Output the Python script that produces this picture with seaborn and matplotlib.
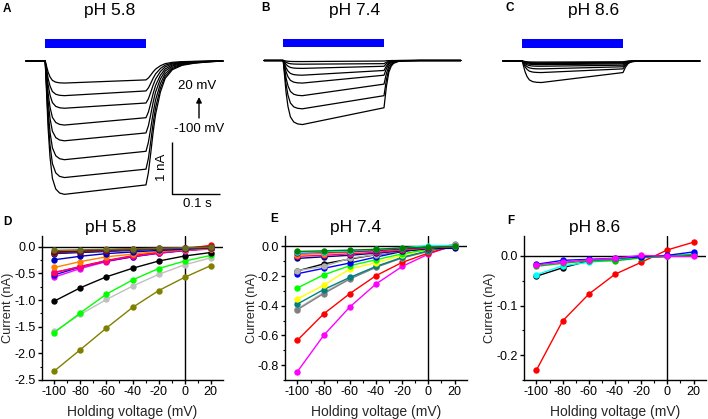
import numpy as np
import pandas as pd
import matplotlib
matplotlib.use("Agg")
import matplotlib.pyplot as plt
import seaborn as sns
from matplotlib.ticker import MultipleLocator, FormatStrFormatter

# ---------------- data ----------------
voltages = [-100, -80, -60, -40, -20, 0, 20]
x_ticks = [-100, -80, -60, -40, -20, 0, 20]

# Panel D (pH 5.8) IV curves, nA
D_darkyellow = [-2.33, -1.93, -1.525, -1.14, -0.825, -0.575, -0.356]
D_ltgray = [-1.59, -1.27, -0.99, -0.74, -0.52, -0.34, -0.21]
D_green = [-1.61, -1.24, -0.89, -0.625, -0.41, -0.27, -0.165]
D_black = [-1.02, -0.77, -0.565, -0.405, -0.27, -0.175, -0.11]
D_magenta = [-0.57, -0.41, -0.28, -0.19, -0.125, -0.075, -0.045]
D_blue = [-0.53, -0.38, -0.27, -0.19, -0.12, -0.07, -0.03]
D_red = [-0.49, -0.37, -0.26, -0.17, -0.10, -0.04, 0.025]
D_pink = [-0.48, -0.38, -0.265, -0.18, -0.12, -0.07, -0.035]
D_orange = [-0.39, -0.28, -0.19, -0.14, -0.09, -0.06, -0.04]
D_royal = [-0.245, -0.18, -0.13, -0.10, -0.07, -0.05, -0.025]
D_navy = [-0.13, -0.11, -0.09, -0.07, -0.05, -0.03, -0.015]
D_purple = [-0.12, -0.10, -0.08, -0.06, -0.04, -0.025, -0.01]
D_darkgray = [-0.11, -0.09, -0.07, -0.055, -0.04, -0.025, -0.02]
D_wine = [-0.10, -0.08, -0.06, -0.045, -0.03, -0.02, -0.005]
D_olive = [-0.07, -0.06, -0.05, -0.04, -0.03, -0.02, -0.01]
D_names = ["darkyellow", "ltgray", "green", "black", "magenta", "blue", "red", "pink",
           "orange", "royal", "navy", "purple", "darkgray", "wine", "olive"]
D_colors = ["#808000", "#c0c0c0", "#00ff00", "#000000", "#ff00ff", "#0000ff", "#ff0000",
            "#ff0080", "#ff8000", "#0000c0", "#000080", "#800080", "#404040", "#800000", "#6b6b20"]
D_series = [D_darkyellow, D_ltgray, D_green, D_black, D_magenta, D_blue, D_red, D_pink,
            D_orange, D_royal, D_navy, D_purple, D_darkgray, D_wine, D_olive]

# Panel E (pH 7.4)
E_magenta = [-0.843, -0.600, -0.408, -0.253, -0.135, -0.052, 0.011]
E_red = [-0.632, -0.455, -0.318, -0.197, -0.108, -0.045, 0.004]
E_ltgray = [-0.420, -0.310, -0.215, -0.138, -0.075, -0.030, 0.012]
E_gray = [-0.426, -0.318, -0.220, -0.141, -0.078, -0.034, 0.016]
E_darkcyan = [-0.388, -0.291, -0.209, -0.135, -0.074, -0.029, 0.005]
E_yellow = [-0.354, -0.262, -0.152, -0.110, -0.060, -0.020, 0.005]
E_green = [-0.280, -0.192, -0.130, -0.090, -0.050, -0.020, 0.000]
E_blue = [-0.184, -0.148, -0.112, -0.072, -0.034, -0.011, -0.007]
E_black = [-0.165, -0.118, -0.085, -0.056, -0.034, -0.013, 0.003]
E_silver = [-0.163, -0.135, -0.080, -0.055, -0.030, -0.005, 0.010]
E_navy = [-0.081, -0.070, -0.060, -0.045, -0.030, -0.015, -0.013]
E_pink = [-0.067, -0.060, -0.050, -0.040, -0.025, -0.010, 0.000]
E_orange = [-0.056, -0.048, -0.040, -0.030, -0.020, -0.010, 0.000]
E_purple = [-0.045, -0.040, -0.035, -0.028, -0.018, -0.008, 0.000]
E_cyan = [-0.040, -0.035, -0.030, -0.020, -0.010, 0.005, 0.005]
E_olive = [-0.034, -0.030, -0.025, -0.020, -0.010, -0.005, 0.000]
E_names = ["magenta", "red", "ltgray", "gray", "darkcyan", "yellow", "green", "blue", "black",
           "silver", "navy", "pink", "orange", "purple", "cyan", "olive"]
E_colors = ["#ff00ff", "#ff0000", "#c0c0c0", "#808080", "#008080", "#ffff00", "#00ff00",
            "#0000ff", "#000000", "#b0b0b0", "#000080", "#ff0080", "#ff8000", "#800080",
            "#00ffff", "#008000"]
E_series = [E_magenta, E_red, E_ltgray, E_gray, E_darkcyan, E_yellow, E_green, E_blue, E_black,
            E_silver, E_navy, E_pink, E_orange, E_purple, E_cyan, E_olive]

# Panel F (pH 8.6)
F_red = [-0.230, -0.131, -0.077, -0.037, -0.013, 0.012, 0.0275]
F_black = [-0.041, -0.024, -0.010, -0.008, -0.003, -0.001, 0.002]
F_cyan = [-0.038, -0.020, -0.013, -0.008, -0.003, 0.000, 0.004]
F_green = [-0.021, -0.015, -0.010, -0.010, -0.004, -0.001, 0.003]
F_blue = [-0.017, -0.009, -0.007, -0.005, -0.002, 0.001, 0.008]
F_magenta = [-0.018, -0.013, -0.008, -0.005, 0.001, -0.001, -0.001]
F_names = ["red", "black", "cyan", "green", "blue", "magenta"]
F_colors = ["#ff0000", "#000000", "#00ffff", "#00c000", "#0000ff", "#ff00ff"]
F_series = [F_red, F_black, F_cyan, F_green, F_blue, F_magenta]

# Current traces (nA): peak and end-of-light amplitudes per sweep
A_peaks = [0.42, 0.66, 0.90, 1.22, 1.52, 1.88, 2.22, 2.54]
A_ends = [0.36, 0.57, 0.80, 1.08, 1.37, 1.72, 2.06, 2.36]
B_peaks = [0.02, 0.07, 0.15, 0.28, 0.43, 0.67, 0.92, 1.22]
B_ends = [0.01, 0.06, 0.11, 0.19, 0.28, 0.45, 0.67, 0.90]
C_peaks = [0.02, 0.035, 0.05, 0.07, 0.10, 0.15, 0.22, 0.41]
C_ends = [0.015, 0.025, 0.04, 0.055, 0.08, 0.11, 0.15, 0.22]
light_on = 0.04
light_off = 0.25
trace_end = 0.41
# normalized waveform shape
on_t = [0.0, 0.003, 0.006, 0.010, 0.015, 0.022, 0.030, 0.040]
on_f = [0.0, 0.25, 0.50, 0.72, 0.88, 0.96, 0.99, 1.0]
off_t = [0.0, 0.005, 0.010, 0.015, 0.020, 0.030, 0.040, 0.055, 0.075, 0.100, 0.130, 0.160]
off_A = [1.0, 0.90, 0.74, 0.57, 0.43, 0.25, 0.14, 0.07, 0.035, 0.018, 0.007, 0.0]
off_BC = [1.0, 0.55, 0.25, 0.12, 0.06, 0.02, 0.01, 0.005, 0.0, 0.0, 0.0, 0.0]

# ---------------- style ----------------
sns.set_theme(style="ticks")
plt.rcParams.update({
    "font.family": ["Liberation Sans", "DejaVu Sans"],
    "axes.unicode_minus": False,
    "axes.linewidth": 1.0,
    "xtick.major.width": 1.0, "ytick.major.width": 1.0,
    "xtick.minor.width": 0.8, "ytick.minor.width": 0.8,
    "xtick.major.size": 3.0, "ytick.major.size": 3.0,
    "xtick.minor.size": 1.8, "ytick.minor.size": 1.8,
    "xtick.direction": "out", "ytick.direction": "out",
    "xtick.color": "black", "ytick.color": "black",
    "axes.edgecolor": "black", "text.color": "black",
})

W, H = 708, 419
fig = plt.figure(figsize=(W / 100, H / 100), dpi=100)


def px_axes(l, t, r, b):
    return fig.add_axes([l / W, 1 - b / H, (r - l) / W, (b - t) / H])


def ftext(x, y, s, **kw):
    fig.text(x / W, 1 - y / H, s, ha="center", va="center", **kw)


PX_S = 480.0   # pixels per second
PX_NA = 52.5   # pixels per nA


def trace_panel(l, r, t, b, xs, yb, peaks, ends, off_f):
    ax = px_axes(l, t, r, b)
    rows = []
    for k, (pk, en) in enumerate(zip(peaks, ends)):
        ts = [0.0] + [light_on + u for u in on_t] + [light_off] + [light_off + u for u in off_t[1:]] + [trace_end]
        vs = [0.0] + [-pk * f for f in on_f] + [-en] + [-en * f for f in off_f[1:]] + [0.0]
        for a, v in zip(ts, vs):
            rows.append((k, a, v))
    df = pd.DataFrame(rows, columns=["sweep", "t", "I"])
    sns.lineplot(data=df, x="t", y="I", hue="sweep", palette=["black"] * len(peaks),
                 estimator=None, sort=False, legend=False, linewidth=0.9, ax=ax)
    ax.set_xlim((l - xs) / PX_S, (r - xs) / PX_S)
    ax.set_ylim(-(b - yb) / PX_NA, (yb - t) / PX_NA)
    ax.fill_between([light_on, light_off], 0.25, 0.41, color="#0000ff", lw=0)
    ax.axis("off")
    return ax


axA = trace_panel(0, 235, 25, 205, 26, 61, A_peaks, A_ends, off_A)
axB = trace_panel(240, 475, 25, 205, 264, 60.5, B_peaks, B_ends, off_BC)
axC = trace_panel(480, 708, 25, 205, 503, 61, C_peaks, C_ends, off_BC)

# scale bar in A
sx = (172 - 26) / PX_S
sy = -(194 - 61) / PX_NA
axA.plot([sx, sx, sx + 0.1], [sy + 1.0, sy, sy], color="black", lw=1.0, solid_capstyle="butt")
ftext(162, 167, "1 nA", fontsize=9.5, rotation=90)
ftext(197, 204, "0.1 s", fontsize=9.5)
ftext(197, 86, "20 mV", fontsize=9.5)
ftext(199, 129, "-100 mV", fontsize=9.5)
fig.add_artist(matplotlib.patches.FancyArrowPatch(
    (199 / W, 1 - 118 / H), (199 / W, 1 - 97 / H), transform=fig.transFigure,
    arrowstyle="-|>", color="black", lw=1.0, mutation_scale=8, shrinkA=0, shrinkB=0))

# titles / letters top
ftext(110, 11, "pH 5.8", fontsize=12.5)
ftext(355, 11, "pH 7.4", fontsize=12.5)
ftext(594, 11, "pH 8.6", fontsize=12.5)
ftext(7, 9, "A", fontsize=8.5, fontweight="bold")
ftext(266, 8, "B", fontsize=8.5, fontweight="bold")
ftext(510, 8, "C", fontsize=8.5, fontweight="bold")


def iv_panel(l, r, names, colors, series, ylim, major, minor, fmt, title, tx, letter, lx, ly):
    ax = px_axes(l, 236, r, 380)
    rows = []
    for n, vals in zip(names, series):
        for v, i in zip(voltages, vals):
            rows.append((n, v, i))
    df = pd.DataFrame(rows, columns=["cell", "V", "I"])
    ax.axhline(0, color="black", lw=1.0, zorder=1)
    ax.axvline(0, color="black", lw=1.0, zorder=1)
    sns.lineplot(data=df, x="V", y="I", hue="cell", palette=dict(zip(names, colors)),
                 marker="o", markersize=4.6, markeredgewidth=0, linewidth=1.0,
                 estimator=None, sort=False, legend=False, ax=ax)
    ax.set_xlim(-109.5, 29.5)
    ax.set_ylim(*ylim)
    ax.set_xticks(x_ticks)
    ax.xaxis.set_minor_locator(MultipleLocator(10))
    ax.yaxis.set_major_locator(MultipleLocator(major))
    ax.yaxis.set_minor_locator(MultipleLocator(minor))
    ax.yaxis.set_major_formatter(FormatStrFormatter(fmt))
    ax.tick_params(labelsize=9.0, pad=1.2)
    sns.despine(ax=ax)
    ax.set_xlabel("Holding voltage (mV)", fontsize=10)
    ax.set_ylabel("Current (nA)", fontsize=9.2)
    ax.xaxis.set_label_coords(0.5, -0.175)
    ax.yaxis.set_label_coords(-27.5 / (r - l), 0.5)
    ftext(tx, 227, title, fontsize=12.5)
    ftext(lx, ly, letter, fontsize=8.5, fontweight="bold")
    return ax


axD = iv_panel(42, 223, D_names, D_colors, D_series, (-2.5, 0.2), 0.5, 0.25, "%.1f",
               "pH 5.8", 110.5, "D", 7, 222)
axE = iv_panel(285, 467, E_names, E_colors, E_series, (-0.9, 0.07), 0.2, 0.1, "%.1f",
               "pH 7.4", 355.5, "E", 274, 219)
axF = iv_panel(524, 706, F_names, F_colors, F_series, (-0.25, 0.04), 0.1, 0.05, "%.1f",
               "pH 8.6", 594.7, "F", 511, 221)

fig.savefig("out.png", dpi=100)
